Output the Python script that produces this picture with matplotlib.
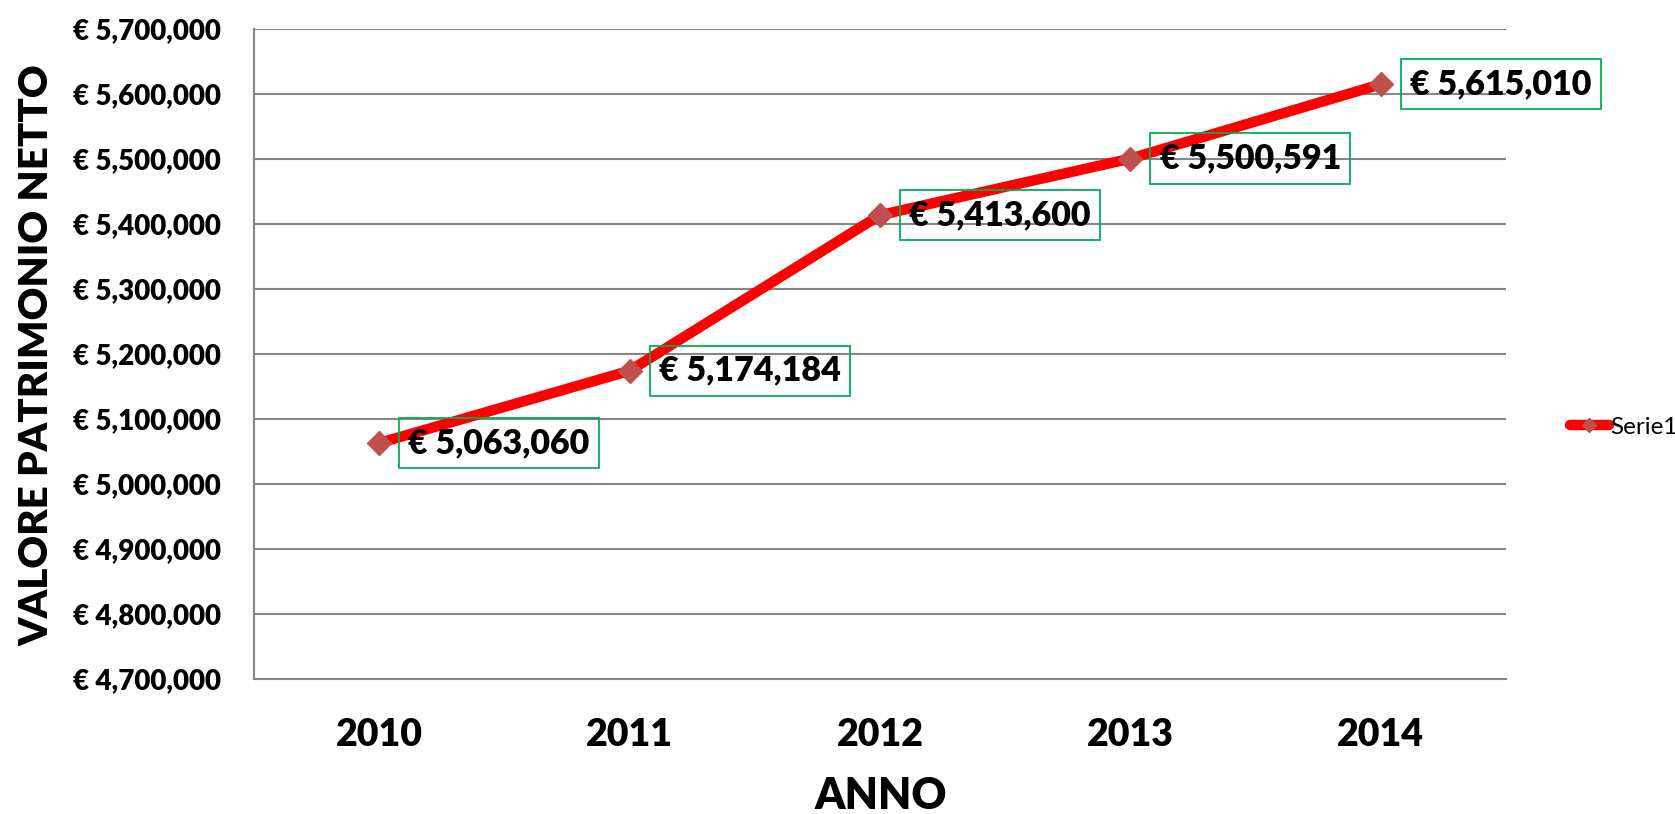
import matplotlib
matplotlib.use("Agg")
import matplotlib.pyplot as plt
from matplotlib.ticker import FuncFormatter, MultipleLocator

years = ["2010", "2011", "2012", "2013", "2014"]
values = [5063060, 5174184, 5413600, 5500591, 5615010]
series_name = "Serie1"
y_label = "VALORE PATRIMONIO NETTO"
x_label = "ANNO"

plt.rcParams['font.family'] = ['Lato', 'DejaVu Sans']
W = 'heavy'

fig = plt.figure(figsize=(16.75, 8.14), dpi=100)
ax = fig.add_axes([254/1675, 1-679/814, (1506-254)/1675, (679-29)/814])

x = list(range(len(years)))
line, = ax.plot(x, values, color='#FF0000', linewidth=7.5, marker='D',
                markersize=12.5, markerfacecolor='#C0504D', markeredgecolor='#C0504D',
                zorder=3, label=series_name, solid_capstyle='round')

for xi, v in zip(x, values):
    ax.annotate(f"€ {v:,.0f}", xy=(xi, v), xytext=(21, 0), textcoords='offset points',
                ha='left', va='center', fontsize=24.5, fontweight=W, color='black',
                bbox=dict(boxstyle='square,pad=0.27', facecolor='none', edgecolor='#00B050', linewidth=1.3),
                zorder=4, annotation_clip=False)

ax.set_xlim(-0.5, 4.5)
ax.set_ylim(4700000, 5700000)
ax.yaxis.set_major_locator(MultipleLocator(100000))
ax.yaxis.set_major_formatter(FuncFormatter(lambda v, p: f"€ {v:,.0f}"))
ax.set_xticks(x)
ax.set_xticklabels(years)
ax.grid(axis='y', color='#868686', linewidth=1.5, zorder=0)
ax.set_axisbelow(True)
for s in ['top', 'right']:
    ax.spines[s].set_visible(False)
for s in ['left', 'bottom']:
    ax.spines[s].set_color('#868686')
    ax.spines[s].set_linewidth(1.5)
ax.tick_params(axis='y', length=0, pad=24, labelsize=20)
ax.tick_params(axis='x', length=0, pad=28, labelsize=27)
for t in ax.get_yticklabels():
    t.set_fontweight(W)
for t in ax.get_xticklabels():
    t.set_fontweight(W)

fig.text(37/1675, 1-355/814, y_label, rotation=90, ha='center', va='center',
         fontsize=29, fontweight=W)
fig.text(881/1675, 1-796/814, x_label, ha='center', va='center',
         fontsize=31, fontweight=W)

fig.legend(handles=[line], loc='center left', bbox_to_anchor=(1570/1675, 1-427/814),
           frameon=False, fontsize=17.5, handlelength=1.6, handletextpad=0.05,
           borderaxespad=0, borderpad=0, markerscale=0.6)

fig.savefig("out.png", dpi=100)
